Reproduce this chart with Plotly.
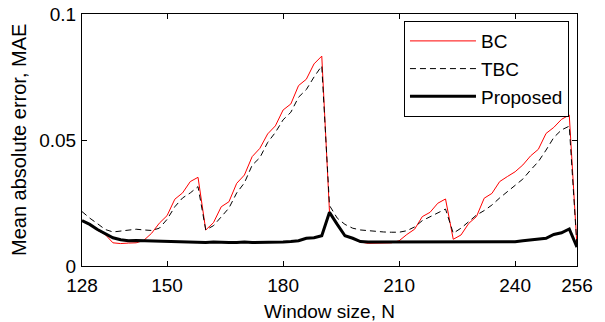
import plotly.graph_objects as go

window_size = [128, 130, 132, 134, 136, 138, 140, 142, 144, 146, 148, 150, 152, 154, 156, 158,
               160, 162, 164, 166, 168, 170, 172, 174, 176, 178, 180, 182, 184, 186, 188, 190,
               192, 194, 196, 198, 200, 202, 204, 206, 208, 210, 212, 214, 216, 218, 220, 222,
               224, 226, 228, 230, 232, 234, 236, 238, 240, 242, 244, 246, 248, 250, 252, 254,
               256]

bc = [0.0180, 0.0165, 0.0142, 0.0125, 0.0092, 0.0089, 0.0091, 0.0092, 0.0102, 0.0130, 0.0170, 0.0200, 0.0265, 0.0290, 0.0335, 0.0352,
      0.0143, 0.0172, 0.0235, 0.0255, 0.0328, 0.0361, 0.0434, 0.0467, 0.0524, 0.0556, 0.0619, 0.0643, 0.0716, 0.0741, 0.0802, 0.0833,
      0.0213, 0.0165, 0.0120, 0.0108, 0.0095, 0.0090, 0.0090, 0.0090, 0.0092, 0.0100, 0.0125, 0.0146, 0.0196, 0.0213, 0.0249, 0.0266,
      0.0106, 0.0123, 0.0169, 0.0196, 0.0269, 0.0288, 0.0335, 0.0355, 0.0374, 0.0401, 0.0437, 0.0463, 0.0526, 0.0550, 0.0582, 0.0599,
      0.0077]

tbc = [0.0216, 0.0190, 0.0168, 0.0145, 0.0135, 0.0138, 0.0142, 0.0146, 0.0143, 0.0141, 0.0150, 0.0185, 0.0235, 0.0270, 0.0290, 0.0315,
       0.0143, 0.0160, 0.0195, 0.0230, 0.0290, 0.0330, 0.0400, 0.0430, 0.0490, 0.0530, 0.0580, 0.0610, 0.0670, 0.0700, 0.0750, 0.0794,
       0.0240, 0.0190, 0.0165, 0.0150, 0.0143, 0.0140, 0.0137, 0.0135, 0.0134, 0.0134, 0.0140, 0.0155, 0.0180, 0.0195, 0.0210, 0.0226,
       0.0130, 0.0150, 0.0176, 0.0202, 0.0220, 0.0242, 0.0270, 0.0295, 0.0320, 0.0345, 0.0381, 0.0414, 0.0460, 0.0510, 0.0540, 0.0555,
       0.0077]

proposed = [0.0180, 0.0165, 0.0145, 0.0128, 0.0112, 0.0104, 0.0100, 0.0101, 0.0100, 0.0097, 0.0096, 0.0096, 0.0095, 0.0093, 0.0093, 0.0093,
            0.0093, 0.0095, 0.0093, 0.0093, 0.0093, 0.0095, 0.0093, 0.0093, 0.0093, 0.0093, 0.0095, 0.0097, 0.0100, 0.0110, 0.0112, 0.0120,
            0.0213, 0.0165, 0.0120, 0.0110, 0.0097, 0.0095, 0.0095, 0.0095, 0.0095, 0.0095, 0.0095, 0.0095, 0.0095, 0.0095, 0.0095, 0.0095,
            0.0095, 0.0095, 0.0095, 0.0095, 0.0095, 0.0095, 0.0095, 0.0095, 0.0096, 0.0100, 0.0103, 0.0106, 0.0110, 0.0125, 0.0132, 0.0147,
            0.0075]

x_ticks = [128, 150, 180, 210, 240, 256]
y_ticks = [0, 0.05, 0.1]
y_ticktext = ["0", "0.05", "0.1"]

FONT = "Liberation Sans, Arial, sans-serif"

fig = go.Figure()
fig.add_trace(go.Scatter(x=window_size, y=bc, mode="lines", name="BC",
                         line=dict(color="#ff0000", width=1)))
fig.add_trace(go.Scatter(x=window_size, y=tbc, mode="lines", name="TBC",
                         line=dict(color="black", width=1, dash="6px,4px")))
fig.add_trace(go.Scatter(x=window_size, y=proposed, mode="lines", name="Proposed",
                         line=dict(color="black", width=3)))

axis_common = dict(showline=True, linecolor="black", linewidth=1, mirror="ticks",
                   ticks="inside", ticklen=5, tickwidth=1, tickcolor="black",
                   showgrid=False, zeroline=False, automargin=False,
                   tickfont=dict(family=FONT, size=19, color="black"))

fig.update_xaxes(range=[128, 256], tickvals=x_ticks, ticklabelstandoff=2, **axis_common)
fig.update_yaxes(range=[0, 0.1], tickvals=y_ticks, ticktext=y_ticktext, ticklabelstandoff=1,
                 **axis_common)

fig.update_layout(
    width=605, height=322,
    margin=dict(l=82, r=28, t=14, b=56, autoexpand=False),
    paper_bgcolor="white", plot_bgcolor="white",
    font=dict(family=FONT, size=19, color="black"),
    showlegend=True,
    legend=dict(x=0.9838, y=0.972, xanchor="right", yanchor="top",
                bgcolor="white", bordercolor="black", borderwidth=1,
                itemwidth=66, font=dict(family=FONT, size=19, color="black")),
    annotations=[
        dict(text="Window size, N", xref="paper", yref="paper", x=0.5, y=-0.1786,
             xanchor="center", yanchor="middle", showarrow=False,
             font=dict(family=FONT, size=19, color="black")),
        dict(text="Mean absolute error, MAE", xref="paper", yref="paper", x=-0.1273, y=0.5,
             xanchor="center", yanchor="middle", textangle=-90, showarrow=False,
             font=dict(family=FONT, size=20, color="black")),
    ],
)

fig.write_html("out.html", config={"displayModeBar": False},
               post_script="document.body.style.margin='0';")
